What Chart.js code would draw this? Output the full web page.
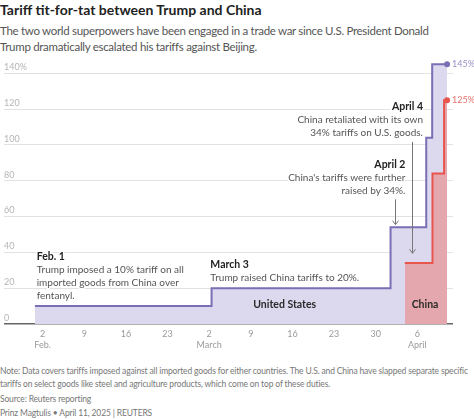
<!DOCTYPE html>
<html lang="en">
<head>
    <meta charset="UTF-8">
    <title>Tariff tit-for-tat between Trump and China</title>
    <style>
        body {
            margin: 0;
            width: 474px;
            height: 419px;
            position: relative;
            background: #fff;
            font-family: 'Lato', sans-serif;
            overflow: hidden;
        }

        .title {
            position: absolute;
            left: 0;
            top: 0;
            font-size: 14px;
            line-height: 20px;
            font-weight: 700;
            color: #222;
            white-space: nowrap;
        }

        .subtitle {
            position: absolute;
            left: 0;
            top: 23px;
            font-size: 11.5px;
            letter-spacing: -0.3px;
            line-height: 16px;
            color: #555;
            white-space: nowrap;
        }

        #tariffChart {
            position: absolute;
            left: 0;
            top: 50px;
        }

        .foot {
            position: absolute;
            left: 0;
            font-size: 8.5px;
            letter-spacing: -0.15px;
            line-height: 12.5px;
            color: #777;
            white-space: nowrap;
        }
    </style>
</head>
<body>
    <div class="title">Tariff tit-for-tat between Trump and China</div>
    <div class="subtitle">The two world superpowers have been engaged in a trade war since U.S. President Donald<br>Trump dramatically escalated his tariffs against Beijing.</div>

    <canvas id="tariffChart" width="474" height="300"></canvas>

    <div class="foot" style="top: 365px;">Note: Data covers tariffs imposed against all imported goods for either countries. The U.S. and China have slapped separate specific<br>tariffs on select goods like steel and agriculture products, which come on top of these duties.</div>
    <div class="foot" style="top: 393px;">Source: Reuters reporting</div>
    <div class="foot" style="top: 406.5px;">Prinz Magtulis • April 11, 2025 | REUTERS</div>

    <script src="https://cdn.jsdelivr.net/npm/chart.js"></script>
    <script>
        // days counted from Feb. 1, 2025 (day 0)
        const usDays = [-0.3, 29.4, 59.5, 65.5, 66.5, 69];
        const usTariff = [10, 20, 54, 104, 145, 145];
        const chinaDays = [61.9, 66.55, 68.5, 69];
        const chinaTariff = [34, 84, 125, 125];

        const tickDays = [1, 8, 15, 22, 29, 36, 43, 50, 57, 64];
        const tickDayLabels = ['2', '9', '16', '23', '2', '9', '16', '23', '30', '6'];
        const tickMonthLabels = ['Feb.', '', '', '', 'March', '', '', '', '', 'April'];
        const yTicks = [0, 20, 40, 60, 80, 100, 120, 140];

        const US_LINE = '#7a6eb4';
        const US_FILL = '#dcd8ee';
        const CN_LINE = '#e8554d';
        const CN_FILL = '#e4a7ad';

        function toPoints(days, values) {
            return days.map((d, i) => ({ x: d, y: values[i] }));
        }

        function endDot(ctx) {
            return ctx.dataIndex === ctx.dataset.data.length - 1 ? 3 : 0;
        }

        // text notes drawn on top of the chart, anchored to the scales
        const notes = [
            { day: 0, pct: 36, align: 'left', head: 'Feb. 1',
              lines: ['Trump imposed a 10% tariff on all', 'imported goods from China over', 'fentanyl.'] },
            { day: 29.2, pct: 31.5, align: 'left', head: 'March 3',
              lines: ['Trump raised China tariffs to 20%.'] },
            { day: 64.95, pct: 119.5, align: 'right', head: 'April 4',
              lines: ['China retaliated with its own', '34% tariffs on U.S. goods.'] },
            { day: 62, pct: 87.3, align: 'right', head: 'April 2',
              lines: ["China's tariffs were further", 'raised by 34%.'] }
        ];

        const arrows = [
            { day: 60.2, from: 69.6, to: 55.5 },
            { day: 63.1, from: 101.7, to: 39.5 }
        ];

        const notesPlugin = {
            id: 'notes',
            afterDraw(chart) {
                const c = chart.ctx;
                const xs = chart.scales.x;
                const ys = chart.scales.y;
                c.save();
                c.textBaseline = 'alphabetic';
                c.lineJoin = 'round';

                notes.forEach(n => {
                    const x = xs.getPixelForValue(n.day);
                    let y = ys.getPixelForValue(n.pct);
                    c.textAlign = n.align;
                    c.font = "bold 10.5px 'Lato', sans-serif";
                    c.strokeStyle = '#fff';
                    c.lineWidth = 3;
                    c.strokeText(n.head, x, y);
                    c.fillStyle = '#222';
                    c.fillText(n.head, x, y);
                    c.font = "10px 'Lato', sans-serif";
                    n.lines.forEach(line => {
                        y += 13;
                        c.strokeText(line, x, y);
                        c.fillStyle = '#555';
                        c.fillText(line, x, y);
                    });
                });

                c.strokeStyle = '#777';
                c.lineWidth = 1;
                arrows.forEach(a => {
                    const x = Math.round(xs.getPixelForValue(a.day)) + 0.5;
                    const y1 = ys.getPixelForValue(a.from);
                    const y2 = ys.getPixelForValue(a.to);
                    c.beginPath();
                    c.moveTo(x, y1);
                    c.lineTo(x, y2);
                    c.moveTo(x - 3, y2 - 4);
                    c.lineTo(x, y2);
                    c.lineTo(x + 3, y2 - 4);
                    c.stroke();
                });

                // series labels
                c.font = "bold 10.5px 'Lato', sans-serif";
                c.textAlign = 'center';
                c.fillStyle = '#2a2a2a';
                c.fillText('United States', xs.getPixelForValue(41.7), ys.getPixelForValue(8.7));
                c.fillText('China', xs.getPixelForValue(65.3), ys.getPixelForValue(8.7));

                // end values
                c.font = "9px 'Lato', sans-serif";
                c.textAlign = 'left';
                c.textBaseline = 'middle';
                const endX = xs.getPixelForValue(usDays[usDays.length - 1]) + 5;
                c.fillStyle = '#9a90c8';
                c.fillText(usTariff[usTariff.length - 1] + '%', endX, ys.getPixelForValue(usTariff[usTariff.length - 1]));
                c.fillStyle = '#e8746c';
                c.fillText(chinaTariff[chinaTariff.length - 1] + '%', endX, ys.getPixelForValue(chinaTariff[chinaTariff.length - 1]));
                c.restore();
            }
        };

        const ctx = document.getElementById('tariffChart').getContext('2d');
        new Chart(ctx, {
            type: 'line',
            data: {
                datasets: [
                    {
                        label: 'China',
                        data: toPoints(chinaDays, chinaTariff),
                        stepped: 'before',
                        borderColor: CN_LINE,
                        backgroundColor: CN_FILL,
                        borderWidth: 2,
                        fill: 'origin',
                        pointRadius: endDot,
                        pointBackgroundColor: CN_LINE,
                        pointBorderWidth: 0
                    },
                    {
                        label: 'United States',
                        data: toPoints(usDays, usTariff),
                        stepped: 'before',
                        borderColor: US_LINE,
                        backgroundColor: US_FILL,
                        borderWidth: 2,
                        fill: 'origin',
                        pointRadius: endDot,
                        pointBackgroundColor: US_LINE,
                        pointBorderWidth: 0
                    }
                ]
            },
            options: {
                responsive: false,
                animation: false,
                layout: { padding: { left: 0, right: 21, top: 5, bottom: 0 } },
                plugins: {
                    legend: { display: false },
                    tooltip: { enabled: false }
                },
                scales: {
                    x: {
                        type: 'linear',
                        min: -5.5,
                        max: 70,
                        afterFit: s => { s.height = 26; },
                        afterBuildTicks: s => { s.ticks = tickDays.map(v => ({ value: v })); },
                        grid: { display: false, drawTicks: false },
                        border: { display: false },
                        ticks: {
                            padding: 4,
                            maxRotation: 0,
                            autoSkip: false,
                            color: '#9a9a9a',
                            font: { family: 'Lato', size: 9, lineHeight: 1.3 },
                            callback: (v, i) => tickMonthLabels[i] ? [tickDayLabels[i], tickMonthLabels[i]] : tickDayLabels[i]
                        }
                    },
                    y: {
                        min: 0,
                        max: 150,
                        afterFit: s => { s.width = 0; },
                        afterBuildTicks: s => { s.ticks = yTicks.map(v => ({ value: v })); },
                        grid: {
                            drawTicks: false,
                            color: c => c.tick && c.tick.value === 0 ? '#666' : '#e2e2e2',
                            lineWidth: c => c.tick && c.tick.value === 0 ? 1.5 : 1
                        },
                        border: { display: false },
                        ticks: {
                            mirror: true,
                            padding: 0,
                            labelOffset: -6,
                            color: '#b5b5b5',
                            font: { family: 'Lato', size: 9 },
                            callback: v => v === 140 ? '140%' : String(v)
                        }
                    }
                }
            },
            plugins: [notesPlugin]
        });
    </script>
</body>
</html>
